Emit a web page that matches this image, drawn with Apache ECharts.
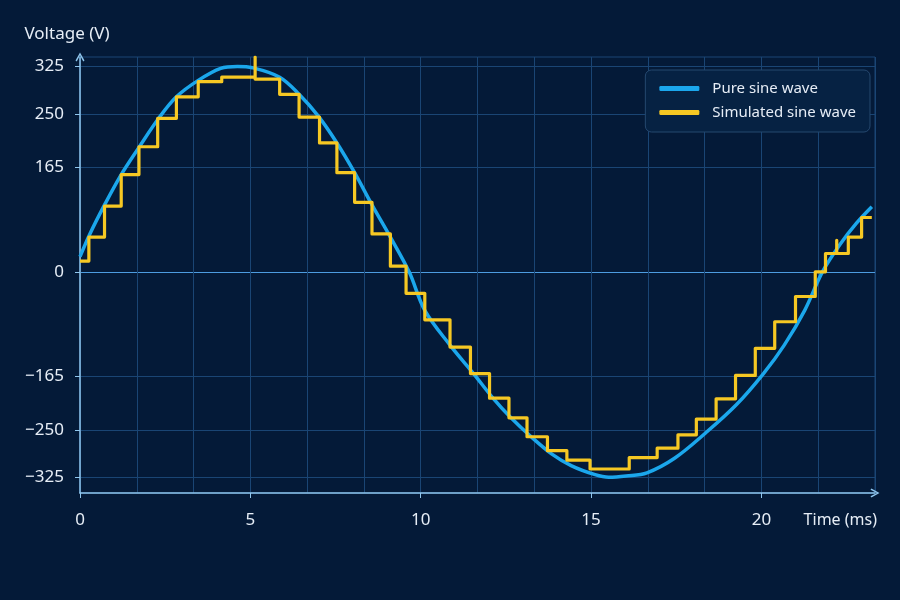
<!DOCTYPE html>
<html>
<head>
<meta charset="utf-8">
<script src="https://cdn.jsdelivr.net/npm/echarts@6/dist/echarts.min.js"></script>
<style>
  html, body { margin: 0; padding: 0; background: #041a38; }
  #chart { width: 900px; height: 600px; }
</style>
</head>
<body>
<div id="chart"></div>
<script>
// Pure sine wave: time (ms) and voltage (V)
const pureTime = [0, 0.29, 0.72, 1.21, 1.73, 2.31, 2.83, 3.47, 4.13, 4.62, 5.06, 5.86, 6.43, 7.00, 7.54, 8.06, 8.57, 9.11, 9.66, 10.12, 10.86, 11.55, 12.14, 12.65, 13.24, 13.84, 14.43, 15.12, 15.52, 16.03, 16.64, 17.45, 18.36, 19.27, 20.06, 20.67, 21.27, 21.79, 22.30, 22.79, 23.24];
const pureVolt = [24, 60, 106, 154, 197, 243, 277, 303, 322, 325, 323, 308, 281, 246, 204, 157, 106, 55, 0, -61, -116, -161, -201, -231, -261, -288, -307, -321, -325, -323, -318, -295, -255, -210, -161, -116, -61, 0, 43, 77, 103];

// Simulated (stepped) sine wave: step start time (ms) and level (V)
const simTime = [0, 0.26, 0.72, 1.21, 1.73, 2.28, 2.83, 3.47, 4.16, 5.14, 5.14, 5.86, 6.43, 7.03, 7.54, 8.06, 8.57, 9.11, 9.57, 10.12, 10.86, 11.46, 12.02, 12.59, 13.12, 13.72, 14.29, 14.97, 16.12, 16.94, 17.55, 18.09, 18.67, 19.24, 19.82, 20.39, 21.00, 21.58, 21.88, 22.21, 22.21, 22.55, 22.94, 23.24];
const simVolt = [17, 55, 104, 154, 198, 243, 277, 301, 308, 340, 305, 281, 245, 204, 157, 110, 60, 9, -34, -76, -119, -161, -200, -231, -261, -283, -298, -312, -294, -279, -258, -233, -201, -164, -121, -79, -39, 0, 29, 50, 29, 55, 86, 86];

// Axis ticks
const xTickLabels = [0, 5, 10, 15, 20];
const yTickLabels = [-325, -250, -165, 0, 165, 250, 325];
const seriesNames = ['Pure sine wave', 'Simulated sine wave'];

const FONT = 'Noto Sans';
const TEXT = '#e6edf6';
const AXIS = '#8fc6ee';
const GRID = '#1a4574';
const ZERO = '#4d9ce0';
const chevron = 'path://M0,9 L5,0 L10,9 L8.6,10 L5,3 L1.4,10 Z';

const chart = echarts.init(document.getElementById('chart'), null, { renderer: 'canvas' });

chart.setOption({
  backgroundColor: '#041a38',
  animation: false,
  textStyle: { fontFamily: FONT },
  grid: {
    left: 80, right: 25, top: 57, bottom: 107,
    show: true, borderColor: GRID, borderWidth: 1, backgroundColor: 'transparent'
  },
  legend: {
    orient: 'vertical',
    right: 30, top: 70,
    backgroundColor: '#062243',
    borderColor: '#25486f',
    borderWidth: 1,
    borderRadius: 6,
    padding: [11, 14, 12, 14],
    itemGap: 9,
    itemWidth: 40,
    itemHeight: 5,
    icon: 'roundRect',
    textStyle: { color: TEXT, fontSize: 15, fontFamily: FONT, padding: [0, 0, 0, 8] },
    data: seriesNames
  },
  xAxis: [
    {
      type: 'value',
      min: 0, max: 70 / 3,
      name: 'Time (ms)',
      nameLocation: 'end',
      nameGap: 2,
      nameTextStyle: { color: TEXT, fontSize: 16, fontFamily: FONT, align: 'right', verticalAlign: 'top', padding: [19, 0, 0, 0] },
      axisLine: { show: true, onZero: false, lineStyle: { color: AXIS, width: 1.5 }, symbol: ['none', chevron], symbolSize: [10, 9] },
      axisTick: { show: true, customValues: xTickLabels, length: 5, lineStyle: { color: AXIS } },
      axisLabel: { customValues: xTickLabels, color: TEXT, fontSize: 17, fontFamily: FONT, margin: 19 },
      splitLine: { show: false }
    },
    {
      type: 'value',
      min: 0, max: 70 / 3, interval: 5 / 3,
      position: 'bottom',
      axisLine: { show: false },
      axisTick: { show: false },
      axisLabel: { show: false },
      splitLine: { show: true, lineStyle: { color: GRID, width: 1 } }
    }
  ],
  yAxis: {
    type: 'value',
    min: -350, max: 340,
    name: 'Voltage (V)',
    nameLocation: 'end',
    nameGap: 14,
    nameTextStyle: { color: TEXT, fontSize: 17, fontFamily: FONT, align: 'center', padding: [0, 26, 0, 0] },
    axisLine: { show: true, onZero: false, lineStyle: { color: AXIS, width: 1.5 }, symbol: ['none', chevron], symbolSize: [10, 9] },
    axisTick: { show: true, customValues: yTickLabels, length: 5, lineStyle: { color: AXIS } },
    axisLabel: { customValues: yTickLabels, color: TEXT, fontSize: 17, fontFamily: FONT, margin: 16,
      formatter: v => (v < 0 ? '\u2212' + Math.abs(v) : String(v)) },
    splitLine: { show: true, lineStyle: { color: [GRID, GRID, GRID, ZERO, GRID, GRID, GRID], width: 1 } }
  },
  series: [
    {
      name: seriesNames[0],
      type: 'line',
      xAxisIndex: 0,
      smooth: 0.35,
      showSymbol: false,
      color: '#1ba7ec',
      lineStyle: { width: 3.5, color: '#1ba7ec' },
      z: 2,
      data: pureTime.map((t, i) => [t, pureVolt[i]])
    },
    {
      name: seriesNames[1],
      type: 'line',
      xAxisIndex: 0,
      step: 'end',
      showSymbol: false,
      color: '#f6c823',
      lineStyle: { width: 3.2, color: '#f6c823', join: 'round' },
      z: 3,
      data: simTime.map((t, i) => [t, simVolt[i]])
    }
  ]
});
</script>
</body>
</html>
